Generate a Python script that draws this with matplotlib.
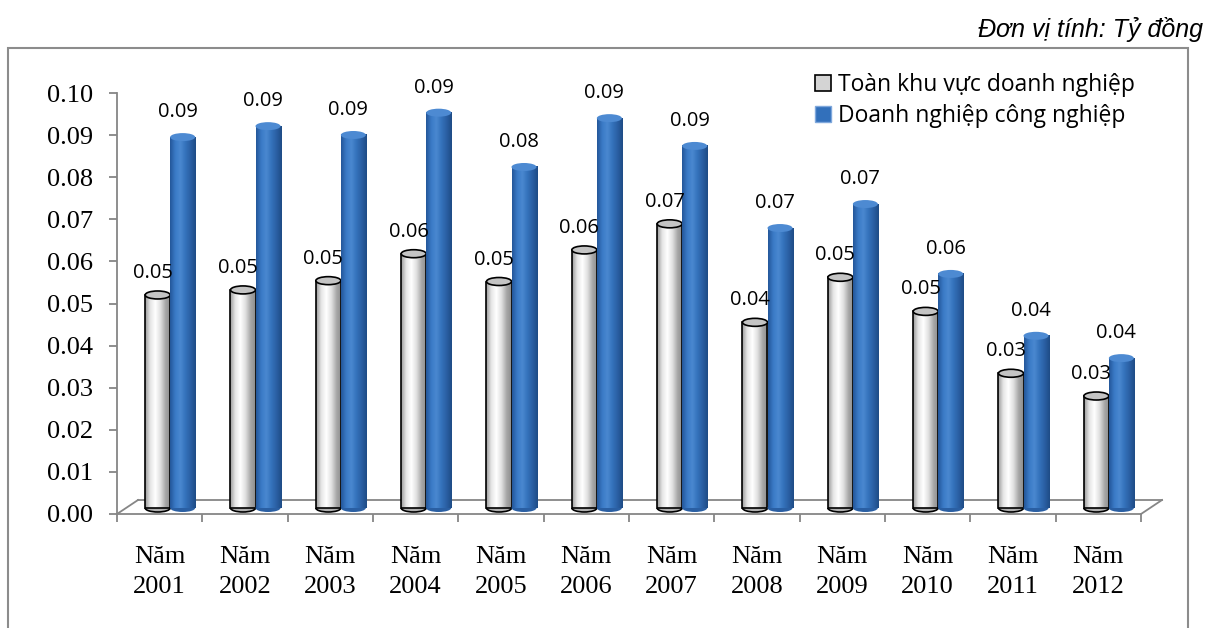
import numpy as np
import matplotlib
matplotlib.use("Agg")
import matplotlib.pyplot as plt
from matplotlib.patches import Rectangle, Ellipse, Arc, Patch
from matplotlib.transforms import offset_copy
from matplotlib.colors import LinearSegmentedColormap

# data
categories = ["Năm\n2001", "Năm\n2002", "Năm\n2003", "Năm\n2004", "Năm\n2005", "Năm\n2006",
              "Năm\n2007", "Năm\n2008", "Năm\n2009", "Năm\n2010", "Năm\n2011", "Năm\n2012"]
series_names = ["Toàn khu vực doanh nghiệp", "Doanh nghiệp công nghiệp"]
toan_khu_vuc = [0.0506, 0.0518, 0.0540, 0.0604, 0.0538, 0.0613,
                0.0675, 0.0441, 0.0548, 0.0467, 0.0320, 0.0266]
cong_nghiep = [0.0881, 0.0907, 0.0886, 0.0939, 0.0810, 0.0926,
               0.0860, 0.0665, 0.0722, 0.0556, 0.0409, 0.0356]
yticks = [0.00, 0.01, 0.02, 0.03, 0.04, 0.05, 0.06, 0.07, 0.08, 0.09, 0.10]
unit_text = "Đơn vị tính: Tỷ đồng"

W, H = 1213, 628
fig = plt.figure(figsize=(W / 100, H / 100), dpi=100)
ax = fig.add_axes([117 / W, (H - 514) / H, (1141 - 117) / W, (514 - 93) / H])
ax.set_facecolor("none")

serif = ["Liberation Serif", "DejaVu Serif"]
sans = ["Open Sans", "DejaVu Sans"]
axis_gray = "#868686"

n = len(categories)
x = np.arange(n)
ax.set_xlim(0, n)
ax.set_ylim(0, 0.10)

# 3D-ish depth: bars sit a bit behind the front floor edge
depth_x, depth_y = 21, 14
trans_bar = offset_copy(ax.transData, fig=fig, x=10.5, y=6, units="dots")
trans_back = offset_copy(ax.transData, fig=fig, x=depth_x, y=depth_y, units="dots")

w = 0.293
px_per_unit = 42.1 / 0.01
ell_h = 8 / px_per_unit

gray_cmap = LinearSegmentedColormap.from_list(
    "cyl_gray", ["#9a9a9a", "#e6e6e6", "#ffffff", "#e0e0e0", "#a8a8a8", "#8a8a8a"])
blue_cmap = LinearSegmentedColormap.from_list(
    "cyl_blue", ["#24579a", "#3a7ac6", "#4a88d0", "#3472bb", "#2a5fa3", "#1f4c86"])
grad = np.linspace(0, 1, 64).reshape(1, -1)


def draw_cylinders(vals, x0s, cmap, edge, top_color, bottom_color, z):
    bars = ax.bar(x0s, vals, width=w, align="edge", color="none",
                  edgecolor=edge, linewidth=1.2 if edge != "none" else 0, zorder=z + 0.2)
    for b, v, x0 in zip(bars, vals, x0s):
        b.set_transform(trans_bar)
        ax.imshow(grad, extent=[x0, x0 + w, 0, v], aspect="auto", cmap=cmap,
                  transform=trans_bar, zorder=z, interpolation="bilinear")
        # bottom rounding
        ax.add_patch(Ellipse((x0 + w / 2, 0), w, ell_h, facecolor=bottom_color,
                             edgecolor="none", transform=trans_bar, zorder=z - 0.1))
        if edge != "none":
            ax.add_patch(Arc((x0 + w / 2, 0), w, ell_h, theta1=180, theta2=360,
                             edgecolor=edge, linewidth=1.2, transform=trans_bar, zorder=z + 0.2))
        # top cap
        ax.add_patch(Ellipse((x0 + w / 2, v), w, ell_h, facecolor=top_color,
                             edgecolor=edge if edge != "none" else "none",
                             linewidth=1.2, transform=trans_bar, zorder=z + 0.3))


draw_cylinders(toan_khu_vuc, x + 0.5 - w, gray_cmap, "black", "#c4c4c4", "#b0b0b0", 3)
draw_cylinders(cong_nghiep, x + 0.5, blue_cmap, "none", "#4d8ad2", "#2a5fa3", 4)

# value labels
lab_gray = offset_copy(ax.transData, fig=fig, x=10.5 - 5, y=6 + 22, units="dots")
lab_blue = offset_copy(ax.transData, fig=fig, x=10.5 - 5, y=6 + 25, units="dots")
for xi, v1, v2 in zip(x, toan_khu_vuc, cong_nghiep):
    ax.text(xi + 0.5 - w / 2, v1, f"{v1:.2f}", transform=lab_gray, ha="center", va="center",
            fontsize=14.5, family=sans, zorder=6)
    ax.text(xi + 0.5 + w / 2, v2, f"{v2:.2f}", transform=lab_blue, ha="center", va="center",
            fontsize=14.5, family=sans, zorder=6)

# floor parallelogram
ax.plot([0, n], [0, 0], color=axis_gray, lw=1.3, transform=trans_back, clip_on=False, zorder=1)
for xe in (0, n):
    p0 = ax.transData.transform((xe, 0))
    p1 = trans_back.transform((xe, 0))
    fig.add_artist(plt.Line2D([p0[0] / W, p1[0] / W], [p0[1] / H, p1[1] / H],
                              color=axis_gray, lw=1.3))

for s in ("top", "right"):
    ax.spines[s].set_visible(False)
ax.spines["left"].set_color(axis_gray)
ax.spines["left"].set_linewidth(1.3)
ax.spines["bottom"].set_color(axis_gray)
ax.spines["bottom"].set_linewidth(1.3)

ax.set_yticks(yticks)
ax.set_yticklabels([f"{t:.2f}" for t in yticks], family=serif, fontsize=19)
ax.tick_params(axis="y", length=5.5, width=1.3, color=axis_gray, pad=12)

ax.set_xticks(np.arange(n + 1))
ax.set_xticklabels([])
ax.set_xticks(x + 0.5, minor=True)
ax.set_xticklabels(categories, minor=True, family=serif, fontsize=19, linespacing=1.45)
ax.tick_params(axis="x", which="major", length=6, width=1.3, color=axis_gray)
ax.tick_params(axis="x", which="minor", length=0, pad=23)

# legend
handles = [Patch(facecolor="#d4d4d4", edgecolor="black", linewidth=1.2),
           Patch(facecolor="#3270bb", edgecolor="#7fa8dc", linewidth=1.0)]
fig.legend(handles, series_names, loc="upper left", bbox_to_anchor=(806 / W, 1 - 64 / H),
           frameon=False, prop={"family": sans, "size": 16.5}, handlelength=0.7,
           handleheight=0.7, handletextpad=0.3, labelspacing=0.3, borderaxespad=0)

# unit note and outer frame
fig.text(1203 / W, 1 - 30 / H, unit_text, ha="right", va="center", fontsize=18,
         style="italic", family=["Liberation Sans Narrow", "Liberation Sans", "DejaVu Sans"])
fig.add_artist(Rectangle((8 / W, -0.05), (1188 - 8) / W, (628 - 48) / H + 0.05,
                         transform=fig.transFigure, fill=False, edgecolor="#8c8c8c", lw=1.5))

fig.savefig("out.png", dpi=100, facecolor="white")
